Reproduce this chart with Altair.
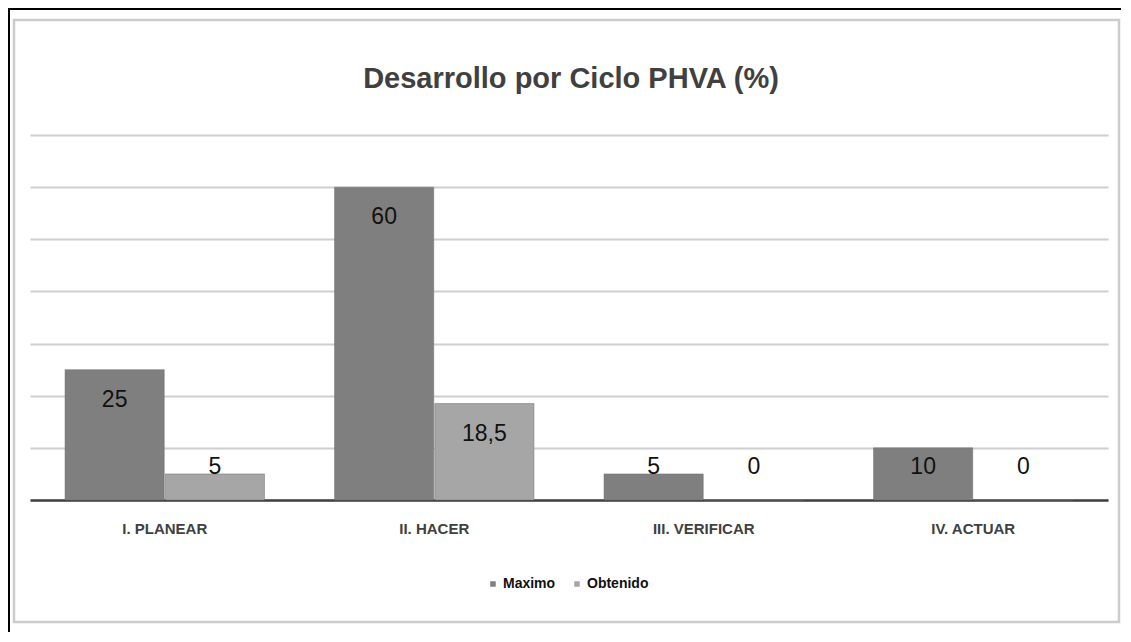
import altair as alt
import pandas as pd

categories = ["I. PLANEAR", "II. HACER", "III. VERIFICAR", "IV. ACTUAR"]
series = ["Maximo", "Obtenido"]
maximo = [25, 60, 5, 10]
obtenido = [5, 18.5, 0, 0]
title_text = "Desarrollo por Ciclo PHVA (%)"

rows = []
for c, m, o in zip(categories, maximo, obtenido):
    rows.append({"phase": c, "series": "Maximo", "value": m})
    rows.append({"phase": c, "series": "Obtenido", "value": o})
df = pd.DataFrame(rows)

FONT = "Liberation Sans Narrow, Arial Narrow, Liberation Sans, Arial, sans-serif"
colors = ["#7f7f7f", "#a6a6a6"]

base = alt.Chart(df)

x_enc = alt.X(
    "phase:N",
    sort=categories,
    scale=alt.Scale(paddingInner=0.26, paddingOuter=0.13),
    axis=alt.Axis(
        title=None,
        labelAngle=0,
        labelFont=FONT,
        labelFontWeight="bold",
        labelFontSize=15,
        labelColor="#404040",
        labelPadding=21,
        ticks=False,
        grid=False,
        domainColor="#404040",
        domainWidth=2.5,
    ),
)
y_enc = alt.Y(
    "value:Q",
    scale=alt.Scale(domain=[0, 70], nice=False),
    axis=alt.Axis(
        title=None,
        values=[0, 10, 20, 30, 40, 50, 60, 70],
        labels=False,
        ticks=False,
        domain=False,
        gridColor="#cfcfcf",
        gridWidth=2,
    ),
)

bars = base.mark_bar(stroke="#6f6f6f", strokeWidth=0.5).encode(
    x=x_enc,
    xOffset=alt.XOffset("series:N", sort=series, scale=alt.Scale(paddingInner=0.01)),
    y=y_enc,
    color=alt.Color(
        "series:N",
        sort=series,
        scale=alt.Scale(domain=series, range=colors),
        legend=alt.Legend(
            title=None,
            orient="none",
            legendX=456,
            legendY=442,
            direction="horizontal",
            symbolType="square",
            symbolSize=30,
            symbolStrokeWidth=0,
            labelFont=FONT,
            labelFontWeight="bold",
            labelFontSize=14,
            labelColor="#111111",
            columnPadding=14,
            labelOffset=3,
        ),
    ),
)

labels = base.transform_calculate(
    lab="replace(toString(datum.value), '.', ',')",
    laby="max(datum.value - 5.8, 6.3)",
).mark_text(
    font=FONT, fontSize=23, color="#111111", baseline="middle", align="center"
).encode(
    x=alt.X("phase:N", sort=categories),
    xOffset=alt.XOffset("series:N", sort=series),
    y=alt.Y("laby:Q"),
    text="lab:N",
)

frame_data = alt.Data(values=[{"t": title_text}])
title_mark = alt.Chart(frame_data).mark_text(
    font=FONT, fontSize=29, fontWeight="bold", color="#404040",
    align="center", baseline="alphabetic",
).encode(x=alt.value(541), y=alt.value(-47), text="t:N")

gray_frame = alt.Chart(frame_data).mark_rect(
    fillOpacity=0, stroke="#cccccc", strokeWidth=2.5
).encode(
    x=alt.value(-16), x2=alt.value(1089), y=alt.value(-115), y2=alt.value(487)
)
black_top = alt.Chart(frame_data).mark_rule(color="#000000", strokeWidth=2).encode(
    x=alt.value(-22), x2=alt.value(1091), y=alt.value(-126)
)
black_left = alt.Chart(frame_data).mark_rule(color="#000000", strokeWidth=2).encode(
    x=alt.value(-21), y=alt.value(-127), y2=alt.value(497)
)

chart = (
    alt.layer(gray_frame, black_top, black_left, title_mark, bars, labels)
    .properties(
        width=1078,
        height=365,
        background="white",
        autosize=alt.AutoSizeParams(type="none"),
        padding={"left": 22, "top": 127, "right": 13, "bottom": 132},
    )
    .configure_view(stroke="transparent", strokeWidth=0)
)

chart.save("out.html", embed_options={"renderer": "svg", "actions": False})
